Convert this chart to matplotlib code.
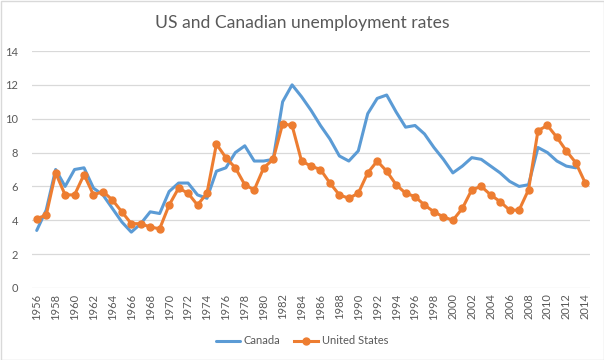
import matplotlib
matplotlib.use("Agg")
import matplotlib.pyplot as plt
import numpy as np
from matplotlib.patches import Rectangle

years = list(range(1956, 2015))
canada = [3.4, 4.6, 7.0, 6.0, 7.0, 7.1, 5.9, 5.5, 4.7, 3.9,
          3.3, 3.8, 4.5, 4.4, 5.7, 6.2, 6.2, 5.5, 5.3, 6.9,
          7.1, 8.0, 8.4, 7.5, 7.5, 7.6, 11.0, 12.0, 11.3, 10.5,
          9.6, 8.8, 7.8, 7.5, 8.1, 10.3, 11.2, 11.4, 10.4, 9.5,
          9.6, 9.1, 8.3, 7.6, 6.8, 7.2, 7.7, 7.6, 7.2, 6.8,
          6.3, 6.0, 6.1, 8.3, 8.0, 7.5, 7.2, 7.1, np.nan]
us = [4.1, 4.3, 6.8, 5.5, 5.5, 6.7, 5.5, 5.7, 5.2, 4.5,
      3.8, 3.8, 3.6, 3.5, 4.9, 5.9, 5.6, 4.9, 5.6, 8.5,
      7.7, 7.1, 6.1, 5.8, 7.1, 7.6, 9.7, 9.6, 7.5, 7.2,
      7.0, 6.2, 5.5, 5.3, 5.6, 6.8, 7.5, 6.9, 6.1, 5.6,
      5.4, 4.9, 4.5, 4.2, 4.0, 4.7, 5.8, 6.0, 5.5, 5.1,
      4.6, 4.6, 5.8, 9.3, 9.6, 8.9, 8.1, 7.4, 6.2]
title = "US and Canadian unemployment rates"
yticks = [0, 2, 4, 6, 8, 10, 12, 14]

FONT = ["Lato", "DejaVu Sans"]
TXT = "#595959"

fig = plt.figure(figsize=(6.04, 3.6), dpi=100)
ax = fig.add_axes([32/604, 1-288/360, (590-32)/604, (288-51)/360])

x = np.arange(len(years))
ax.plot(x, canada, color="#5B9BD5", lw=2.2, label="Canada", solid_capstyle="round", solid_joinstyle="round")
ax.plot(x, us, color="#ED7D31", lw=2.2, marker="o", markersize=5, label="United States",
        solid_joinstyle="round")

ax.set_xlim(-0.5, len(years) - 0.5)
ax.set_ylim(0, 14)
ax.set_yticks(yticks)
ax.set_yticklabels([str(v) for v in yticks], fontfamily=FONT, fontsize=8, color=TXT)
ax.set_xticks(x[::2])
ax.set_xticklabels([str(y) for y in years[::2]], rotation=90, fontfamily=FONT, fontsize=8, color=TXT)
ax.tick_params(axis="both", length=0, pad=4)
ax.tick_params(axis="y", pad=10)
ax.grid(axis="y", color="#D9D9D9", lw=0.9)
ax.set_axisbelow(True)
for s in ax.spines.values():
    s.set_visible(False)

fig.text(0.5, 1-23/360, title, ha="center", va="center", fontfamily=FONT, fontsize=12.6, color=TXT)

leg = fig.legend(loc="center", bbox_to_anchor=(0.5, 1-341/360), ncol=2, frameon=False,
                 prop={"family": FONT, "size": 8}, handlelength=2.2, columnspacing=1.2,
                 handletextpad=0.3)
for t in leg.get_texts():
    t.set_color(TXT)

fig.patches.append(Rectangle((0.5/604, 0.5/360), 1-1/604, 1-1/360, transform=fig.transFigure,
                             fill=False, edgecolor="#D9D9D9", lw=1))
fig.savefig("out.png", dpi=100, facecolor="white")
